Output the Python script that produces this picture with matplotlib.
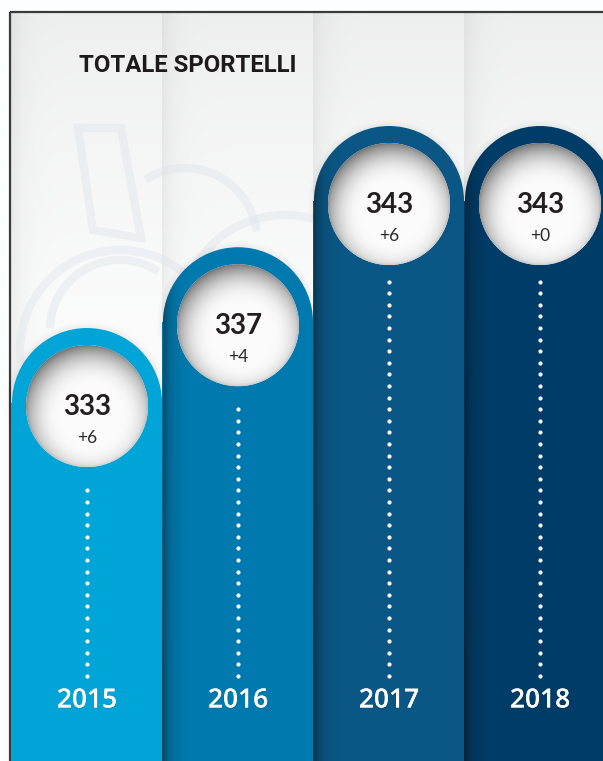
import numpy as np
import matplotlib
matplotlib.use("Agg")
import matplotlib.pyplot as plt
from matplotlib.patches import Ellipse, Polygon
import matplotlib.patheffects as pe

# ---------------- data ----------------
years = ["2015", "2016", "2017", "2018"]
values = [333, 337, 343, 343]
changes = ["+6", "+4", "+6", "+0"]
colors = ["#00A4D6", "#0079AE", "#0A5785", "#003C68"]
title = "TOTALE SPORTELLI"

# ---------------- figure / scales ----------------
W, H = 603, 761
fig = plt.figure(figsize=(W / 100, H / 100), dpi=100)
ax = fig.add_axes([0, 0, 1, 1])
xmin, xmax = -87.0 / 151.0, (W - 87.0) / 151.0
ymin, ymax = min(values) - 17.72, max(values) + 9.95
ax.set_xlim(xmin, xmax)
ax.set_ylim(ymin, ymax)
ax.axis("off")
PXX = W / (xmax - xmin)   # pixels per x unit
PXY = H / (ymax - ymin)   # pixels per y unit


def dxu(px):
    return px / PXX


def dyu(px):
    return px / PXY


def P(xp, yp):
    """pixel (from top-left) -> data, used for decoration only"""
    return xmin + xp / PXX, ymax - yp / PXY


# ---------------- background ----------------
yy, xx = np.mgrid[0:H, 0:W].astype(float)
bg = 0.935 + 0.05 * np.clip((yy - 15) / 300.0, 0, 1) ** 0.7
for xb in [11, 162, 313, 464]:
    m = xx >= xb
    bg = bg - m * 0.055 * np.exp(-(xx - xb) / 12.0)
bg = np.where((xx < 11) | (yy < 13), 1.0, bg)
img = np.dstack([bg * 0.996, bg * 0.998, bg * 1.0])
img = np.clip(img, 0, 1)
ax.imshow(img, extent=[xmin, xmax, ymin, ymax], origin="upper",
          aspect="auto", zorder=0, interpolation="bilinear")

# frame
ax.plot([P(10, 12)[0], P(W, 12)[0]], [P(10, 12)[1], P(W, 12)[1]],
        color="#3a3a3a", lw=1.6, zorder=1, solid_capstyle="butt")
ax.plot([P(10, 12)[0], P(10, H)[0]], [P(10, 12)[1], P(10, H)[1]],
        color="#3a3a3a", lw=1.6, zorder=1, solid_capstyle="butt")

# faint watermark logo
wm = dict(color="#DCE3EA", lw=6, alpha=0.4, zorder=1, solid_joinstyle="miter")
poly = [P(78, 128), P(121, 128), P(141, 238), P(93, 230), P(78, 128)]
ax.plot([p[0] for p in poly], [p[1] for p in poly], **wm)


def arc_px(cx, cy, r, a0, a1):
    t = np.radians(np.linspace(a0, a1, 80))
    pts = [P(cx + r * np.cos(a), cy - r * np.sin(a)) for a in t]
    return [p[0] for p in pts], [p[1] for p in pts]


for (cx, cy, r, a0, a1) in [(120, 350, 100, 30, 185),
                            (185, 240, 72, 10, 120),
                            (285, 320, 105, 60, 170),
                            (120, 330, 70, 60, 175)]:
    xs, ys = arc_px(cx, cy, r, a0, a1)
    ax.plot(xs, ys, **wm)

# ---------------- bars ----------------
R_OUT = 75
R_IN = 61
for i, (v, c) in enumerate(zip(values, colors)):
    # soft drop shadow around cap
    for k in range(1, 7):
        ax.add_patch(Ellipse((i, v), 2 * dxu(R_OUT + k), 2 * dyu(R_OUT + k),
                             facecolor="black", edgecolor="none",
                             alpha=0.008, zorder=2))
    ax.bar(i, v - ymin, bottom=ymin, width=2 * dxu(R_OUT + 1.2), color=c,
           edgecolor="none", zorder=3)
    ax.add_patch(Ellipse((i, v), 2 * dxu(R_OUT), 2 * dyu(R_OUT),
                         facecolor=c, edgecolor="none", zorder=3))

    # left-edge shadow cast by previous column
    if i > 0:
        t = np.linspace(0, np.pi, 120)
        shape = [(i + dxu(R_OUT) * np.cos(a), v + dyu(R_OUT) * np.sin(a)) for a in t]
        shape += [(i - dxu(R_OUT + 1.2), ymin), (i + dxu(R_OUT + 1.2), ymin)]
        clip = Polygon(shape, closed=True, facecolor="none", edgecolor="none")
        ax.add_patch(clip)
        g = np.linspace(0, 1, 64)
        alpha = 0.5 * np.exp(-g * 3.5)
        sh = np.zeros((1, 64, 4))
        sh[0, :, 3] = alpha
        sh[0, :, :3] = 0.05
        im = ax.imshow(sh, extent=[i - dxu(R_OUT + 1.2), i - dxu(R_OUT) + dxu(24), ymin, v + dyu(R_OUT)],
                       origin="upper", aspect="auto", zorder=3.5, interpolation="bilinear")
        im.set_clip_path(clip)

    # white circle with inner shadow
    cxv, cyv = i, v - dyu(3)
    n = 200
    gx, gy = np.meshgrid(np.linspace(-R_IN, R_IN, n), np.linspace(-R_IN, R_IN, n))
    d = np.sqrt((gx - 4) ** 2 + (gy - 10) ** 2)
    s = np.clip((d - 28.0) / (R_IN + 11 - 28.0), 0, 1) ** 2.4 * 0.55
    rr = np.sqrt(gx ** 2 + gy ** 2)
    s = s + np.clip((rr - (R_IN - 2.5)) / 2.5, 0, 1) * 0.05
    gray = np.clip(0.985 - s, 0, 1)
    circ_img = np.dstack([gray, gray, gray])
    circ = Ellipse((cxv, cyv), 2 * dxu(R_IN), 2 * dyu(R_IN),
                   facecolor="white", edgecolor="none", zorder=4)
    ax.add_patch(circ)
    im2 = ax.imshow(circ_img, extent=[cxv - dxu(R_IN), cxv + dxu(R_IN),
                                      cyv - dyu(R_IN), cyv + dyu(R_IN)],
                    origin="upper", aspect="auto", zorder=4.5, interpolation="bilinear")
    im2.set_clip_path(circ)

    # texts in circle
    ax.text(i, cyv - dyu(1), f"{v}", ha="center", va="center", fontsize=20,
            fontweight="bold", color="#231F20", family="Lato", zorder=6)
    ax.text(i, cyv - dyu(32), changes[i], ha="center", va="center", fontsize=12.5,
            fontweight="normal", color="#2a2a2a", family="Lato", zorder=6)

    # dotted line
    top = cyv - dyu(R_IN + 14)
    ys = np.arange(ymin + dyu(85), top, dyu(11.6))
    ax.plot(np.full_like(ys, i), ys, "o", ms=3.0, color="white", mec="none", zorder=5)

    # year label
    ax.text(i, ymin + dyu(60), years[i], ha="center", va="center", fontsize=19,
            fontweight="semibold", color="white", family="Open Sans", zorder=6,
            path_effects=[pe.withSimplePatchShadow(offset=(0, -0.5), shadow_rgbFace="black", alpha=0.2),
                          pe.Normal()])

# title
tx, ty = P(79, 65)
ax.text(tx, ty, title, ha="left", va="center", fontsize=17.2, fontweight="bold",
        color="#1E1A1B", family="Roboto", zorder=6)

fig.savefig("out.png", dpi=100)
